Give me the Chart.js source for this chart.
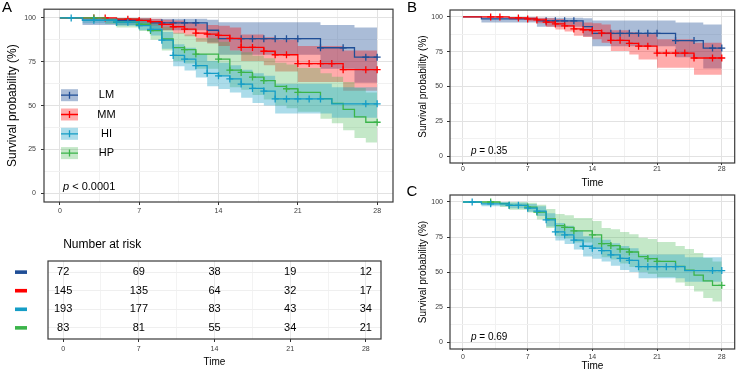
<!DOCTYPE html>
<html>
<head>
<meta charset="utf-8">
<script src="https://cdn.jsdelivr.net/npm/chart.js@4.4.1/dist/chart.umd.min.js"></script>
<style>
  html, body { margin: 0; padding: 0; background: #fff; }
  body { width: 740px; height: 373px; position: relative; overflow: hidden; }
  .panel { position: absolute; }
</style>
</head>
<body>
<div class="panel" style="left:0;top:0;width:400px;height:220px"><canvas id="chartA"></canvas></div>
<div class="panel" style="left:0;top:235px;width:400px;height:138px"><canvas id="riskTable"></canvas></div>
<div class="panel" style="left:405px;top:0;width:335px;height:190px"><canvas id="chartB"></canvas></div>
<div class="panel" style="left:405px;top:180px;width:335px;height:193px"><canvas id="chartC"></canvas></div>
<script>
// time axis (days) and survival axis (%)
const timeTicks = [0, 7, 14, 21, 28]
const timeGrid = [0, 3.5, 7, 10.5, 14, 17.5, 21, 24.5, 28]
const survTicks = [0, 25, 50, 75, 100]
const survGrid = [0, 12.5, 25, 37.5, 50, 62.5, 75, 87.5, 100]

// LM
const lmTime = [0, 2, 8, 13, 14, 23, 26, 28]
const lmSurv = [100, 98.6, 97.2, 93.0, 88.2, 83.0, 77.6, 77.6]
const lmLower = [100, 96.0, 93.0, 86.0, 79.0, 71.0, 63.0, 63.0]
const lmUpper = [100, 100, 99.5, 99.0, 97.5, 96.0, 94.5, 94.5]
const lmCensor = [9, 10, 11, 12, 16, 17, 18, 19, 20, 21, 23, 25, 27, 28]

// MM
const mmTime = [0, 5, 7, 8, 9, 10, 11, 12, 13, 14, 15, 16, 18, 19, 21, 25, 28]
const mmSurv = [100, 99.3, 98.6, 97.9, 96.3, 95.0, 93.6, 91.4, 90.8, 90.1, 88.4, 83.2, 81.0, 79.0, 74.0, 70.5, 70.5]
const mmLower = [100, 98.0, 97.0, 95.5, 93.0, 91.0, 89.5, 86.5, 85.5, 84.0, 81.5, 75.5, 73.0, 69.5, 63.5, 58.5, 58.5]
const mmUpper = [100, 100, 100, 99.5, 99.0, 98.5, 97.5, 96.5, 96.0, 95.5, 94.5, 90.5, 89.0, 87.5, 84.0, 81.5, 81.5]
const mmCensor = [3, 4, 6, 7, 8, 9, 10, 11, 12, 13, 14, 15, 16, 17, 18, 19, 20, 21, 22, 23, 24, 25, 27, 28]

// HI
const hiTime = [0, 2, 5, 7, 8, 9, 10, 11, 12, 13, 14, 15, 16, 17, 18, 19, 24, 28]
const hiSurv = [100, 98.7, 97.6, 95.6, 93.5, 87.3, 78.6, 76.5, 72.8, 68.4, 67.0, 65.2, 62.3, 59.8, 58.3, 53.8, 51.0, 51.0]
const hiLower = [100, 97.0, 95.5, 93.0, 90.0, 82.5, 72.5, 70.0, 66.0, 61.0, 59.5, 57.5, 54.5, 51.5, 50.0, 45.5, 43.0, 43.0]
const hiUpper = [100, 100, 99.5, 98.5, 97.0, 92.0, 85.0, 83.0, 79.5, 75.5, 74.5, 73.0, 70.5, 68.5, 67.0, 62.5, 60.5, 60.5]
const hiCensor = [1, 3, 5, 6, 7, 8, 9, 10, 11, 12, 13, 14, 15, 16, 17, 18, 19, 20, 21, 22, 23, 27, 28]

// HP
const hpTime = [0, 4, 5, 7, 8, 9, 10, 11, 12, 14, 15, 16, 17, 18, 19, 20, 21, 23, 24, 25, 26, 27, 28]
const hpSurv = [100, 98.8, 97.6, 96.4, 92.8, 88.0, 83.1, 81.9, 79.4, 76.5, 70.2, 68.9, 66.3, 64.3, 61.0, 59.6, 57.6, 54.0, 51.3, 47.8, 43.6, 40.5, 40.5]
const hpLower = [100, 96.5, 94.5, 92.5, 87.5, 81.5, 75.5, 74.0, 71.0, 67.5, 60.5, 59.0, 56.0, 53.5, 50.0, 48.5, 46.5, 42.5, 40.0, 36.0, 31.5, 29.0, 29.0]
const hpUpper = [100, 100, 100, 99.5, 98.0, 95.0, 91.5, 90.5, 88.5, 86.5, 81.5, 80.5, 78.5, 77.0, 74.5, 73.5, 71.5, 68.5, 66.5, 63.5, 60.0, 57.5, 57.5]
const hpCensor = [3, 5, 7, 8, 11, 12, 14, 15, 16, 17, 18, 20, 21, 28]

// number at risk
const riskTimes = [0, 7, 14, 21, 28]
const riskLM = [72, 69, 38, 19, 12]
const riskMM = [145, 135, 64, 32, 17]
const riskHI = [193, 177, 83, 43, 34]
const riskHP = [83, 81, 55, 34, 21]

const FONT = "'Liberation Sans', Arial, sans-serif"
Chart.defaults.font.family = FONT

const groups = {
    LM: { time: lmTime, surv: lmSurv, lower: lmLower, upper: lmUpper, censor: lmCensor, risk: riskLM, row: 4, color: '#1F4E96', band: 'rgba(31,78,150,0.38)' },
    MM: { time: mmTime, surv: mmSurv, lower: mmLower, upper: mmUpper, censor: mmCensor, risk: riskMM, row: 3, color: '#FF0000', band: 'rgba(255,0,0,0.33)' },
    HI: { time: hiTime, surv: hiSurv, lower: hiLower, upper: hiUpper, censor: hiCensor, risk: riskHI, row: 2, color: '#159DC6', band: 'rgba(21,157,198,0.36)' },
    HP: { time: hpTime, surv: hpSurv, lower: hpLower, upper: hpUpper, censor: hpCensor, risk: riskHP, row: 1, color: '#3BB44A', band: 'rgba(59,180,74,0.3)' }
}

const toPoints = (xs, ys) => xs.map((x, i) => ({ x: x, y: ys[i] }))
const valueAt = (g, t) => {
    let v = g.surv[0]
    g.time.forEach((x, i) => { if (x <= t) v = g.surv[i] })
    return v
}

// first name in the list is drawn at the bottom
const kmDatasets = (names) => {
    let sets = []
    names.forEach((name, k) => {
        const g = groups[name]
        sets.push({ data: toPoints(g.time, g.lower), stepped: true, borderWidth: 0, pointRadius: 0, fill: false, order: 100 - k })
        sets.push({ data: toPoints(g.time, g.upper), stepped: true, borderWidth: 0, pointRadius: 0, fill: '-1', backgroundColor: g.band, order: 100 - k })
        sets.push({ data: toPoints(g.time, g.surv), stepped: true, borderColor: g.color, borderWidth: 1.3, pointRadius: 0, fill: false, order: 50 - k })
        sets.push({
            data: g.censor.map(t => ({ x: t, y: valueAt(g, t) })),
            showLine: false, pointStyle: 'cross', pointRadius: 3.5, borderColor: g.color, borderWidth: 1.3, order: 50 - k
        })
    })
    return sets
}

const kmScales = (o) => ({
    x: {
        type: 'linear', min: -1.4, max: 29.4,
        afterBuildTicks: axis => { axis.ticks = timeGrid.map(v => ({ value: v })) },
        afterFit: axis => { axis.height = o.xHeight },
        ticks: {
            autoSkip: false, maxRotation: 0, padding: o.xPad, color: '#3c3c3c', font: { size: 7 },
            callback: v => timeTicks.includes(v) ? v : ''
        },
        grid: {
            color: c => timeTicks.includes(c.tick.value) ? '#e2e2e2' : '#f1f1f1',
            tickColor: c => timeTicks.includes(c.tick.value) ? '#333' : 'rgba(0,0,0,0)',
            tickLength: o.tickLen
        },
        border: { display: false },
        title: { display: !!o.xTitle, text: 'Time', color: '#000', font: { size: 10 }, padding: { top: 0, bottom: o.xTitlePad || 0 } }
    },
    y: {
        type: 'linear', min: -5, max: 105,
        afterBuildTicks: axis => { axis.ticks = survGrid.map(v => ({ value: v })) },
        afterFit: axis => { axis.width = o.yWidth },
        ticks: {
            autoSkip: false, padding: o.yPad, color: '#3c3c3c', font: { size: 7 },
            callback: v => survTicks.includes(v) ? v : ''
        },
        grid: {
            color: c => survTicks.includes(c.tick.value) ? '#e2e2e2' : '#f1f1f1',
            tickColor: c => survTicks.includes(c.tick.value) ? '#333' : 'rgba(0,0,0,0)',
            tickLength: 3
        },
        border: { display: false },
        title: { display: true, text: 'Survival probability (%)', color: '#000', font: { size: o.yTitleSize }, padding: { top: o.yTitlePad, bottom: 0 } }
    }
})

const framePlugin = {
    id: 'frame',
    afterDraw(chart) {
        const { ctx, chartArea: a } = chart
        ctx.save()
        ctx.strokeStyle = '#3a3a3a'
        ctx.lineWidth = 1.2
        ctx.strokeRect(a.left, a.top, a.right - a.left, a.bottom - a.top)
        ctx.restore()
    }
}

const panelText = (letter, lx, ly, pRest, pSize, pdx, pdy) => ({
    id: 'panelText',
    afterDraw(chart) {
        const { ctx, chartArea: a } = chart
        ctx.save()
        ctx.fillStyle = '#000'
        ctx.textBaseline = 'middle'
        ctx.textAlign = 'center'
        ctx.font = `15px ${FONT}`
        ctx.fillText(letter, lx, ly)
        ctx.textAlign = 'left'
        ctx.font = `italic ${pSize}px ${FONT}`
        ctx.fillText('p', a.left + pdx, a.bottom - pdy)
        const w = ctx.measureText('p').width
        ctx.font = `${pSize}px ${FONT}`
        ctx.fillText(pRest, a.left + pdx + w, a.bottom - pdy)
        ctx.restore()
    }
})

const legendA = {
    id: 'legendA',
    afterDraw(chart) {
        const { ctx, chartArea: a } = chart
        ctx.save()
        ;['LM', 'MM', 'HI', 'HP'].forEach((name, i) => {
            const g = groups[name]
            const x0 = a.left + 17
            const yc = a.top + 86 + i * 19.3
            ctx.fillStyle = g.band
            ctx.fillRect(x0, yc - 6, 17, 12)
            ctx.strokeStyle = g.color
            ctx.lineWidth = 1.3
            ctx.beginPath()
            ctx.moveTo(x0, yc)
            ctx.lineTo(x0 + 17, yc)
            ctx.moveTo(x0 + 8.5, yc - 3.5)
            ctx.lineTo(x0 + 8.5, yc + 3.5)
            ctx.stroke()
            ctx.fillStyle = '#000'
            ctx.font = `11px ${FONT}`
            ctx.textAlign = 'center'
            ctx.textBaseline = 'middle'
            ctx.fillText(name, x0 + 45.5, yc)
        })
        ctx.restore()
    }
}

const baseOptions = (scales, padding) => ({
    responsive: true,
    maintainAspectRatio: false,
    animation: false,
    events: [],
    layout: { padding: padding },
    plugins: { legend: { display: false }, tooltip: { enabled: false } },
    scales: scales
})

new Chart(document.getElementById('chartA'), {
    type: 'line',
    data: { datasets: kmDatasets(['LM', 'MM', 'HP', 'HI']) },
    options: baseOptions(
        kmScales({ xHeight: 18, xPad: 2, tickLen: 3, yWidth: 44, yPad: 5, yTitleSize: 12, yTitlePad: 5 }),
        { top: 8, right: 7, left: 0, bottom: 0 }
    ),
    plugins: [framePlugin, legendA, panelText('A', 7, 8, ' < 0.0001', 11, 19, 15)]
})

new Chart(document.getElementById('chartB'), {
    type: 'line',
    data: { datasets: kmDatasets(['LM', 'MM']) },
    options: baseOptions(
        kmScales({ xHeight: 27, xPad: 0, tickLen: 2, xTitle: true, xTitlePad: 1, yWidth: 45, yPad: 4, yTitleSize: 10, yTitlePad: 12 }),
        { top: 10, right: 2, left: 0, bottom: 0 }
    ),
    plugins: [framePlugin, panelText('B', 7, 7.5, ' = 0.35', 10, 21, 12)]
})

new Chart(document.getElementById('chartC'), {
    type: 'line',
    data: { datasets: kmDatasets(['HP', 'HI']) },
    options: baseOptions(
        kmScales({ xHeight: 24, xPad: 2, tickLen: 2, xTitle: true, xTitlePad: 1, yWidth: 45, yPad: 4, yTitleSize: 10, yTitlePad: 12 }),
        { top: 15, right: 2, left: 0, bottom: 0 }
    ),
    plugins: [framePlugin, panelText('C', 7, 11.5, ' = 0.69', 10, 21, 12)]
})

// risk table: one row per group, cells placed by the scales
const riskNames = ['LM', 'MM', 'HI', 'HP']
const riskPlugin = {
    id: 'riskCells',
    afterDraw(chart) {
        const { ctx } = chart
        ctx.save()
        ctx.fillStyle = '#000'
        ctx.font = `12px ${FONT}`
        ctx.textAlign = 'left'
        ctx.textBaseline = 'middle'
        ctx.fillText('Number at risk', chart.scales.x.getPixelForValue(0), 10)
        ctx.font = `11px ${FONT}`
        ctx.textAlign = 'center'
        riskNames.forEach((name, i) => {
            const g = groups[name]
            const meta = chart.getDatasetMeta(i)
            meta.data.forEach((pt, j) => {
                ctx.fillStyle = '#000'
                ctx.fillText(String(g.risk[j]), pt.x, pt.y)
            })
            ctx.fillStyle = g.color
            const y = chart.scales.y.getPixelForValue(g.row)
            ctx.fillRect(15, y - 1.8, 12, 3.6)
        })
        ctx.restore()
    }
}

new Chart(document.getElementById('riskTable'), {
    type: 'line',
    data: {
        datasets: riskNames.map(name => ({
            data: riskTimes.map(t => ({ x: t, y: groups[name].row })),
            showLine: false, pointRadius: 0
        }))
    },
    options: baseOptions({
        x: {
            type: 'linear', min: -1.4, max: 29.4,
            afterBuildTicks: axis => { axis.ticks = timeGrid.map(v => ({ value: v })) },
            afterFit: axis => { axis.height = 34 },
            ticks: {
                autoSkip: false, maxRotation: 0, padding: 3, color: '#3c3c3c', font: { size: 7 },
                callback: v => timeTicks.includes(v) ? v : ''
            },
            grid: {
                color: c => timeTicks.includes(c.tick.value) ? '#e8e8e8' : '#f3f3f3',
                tickColor: c => timeTicks.includes(c.tick.value) ? '#333' : 'rgba(0,0,0,0)',
                tickLength: 3
            },
            border: { display: false },
            title: { display: true, text: 'Time', color: '#000', font: { size: 10 }, padding: { top: 0, bottom: 5 } }
        },
        y: {
            type: 'linear', min: 0.4, max: 4.6,
            afterBuildTicks: axis => { axis.ticks = [1, 2, 3, 4].map(v => ({ value: v })) },
            afterFit: axis => { axis.width = 48 },
            ticks: { display: false },
            grid: { color: '#efefef', drawTicks: false },
            border: { display: false }
        }
    }, { top: 26, right: 19, left: 0, bottom: 0 }),
    plugins: [framePlugin, riskPlugin]
})
</script>
</body>
</html>
